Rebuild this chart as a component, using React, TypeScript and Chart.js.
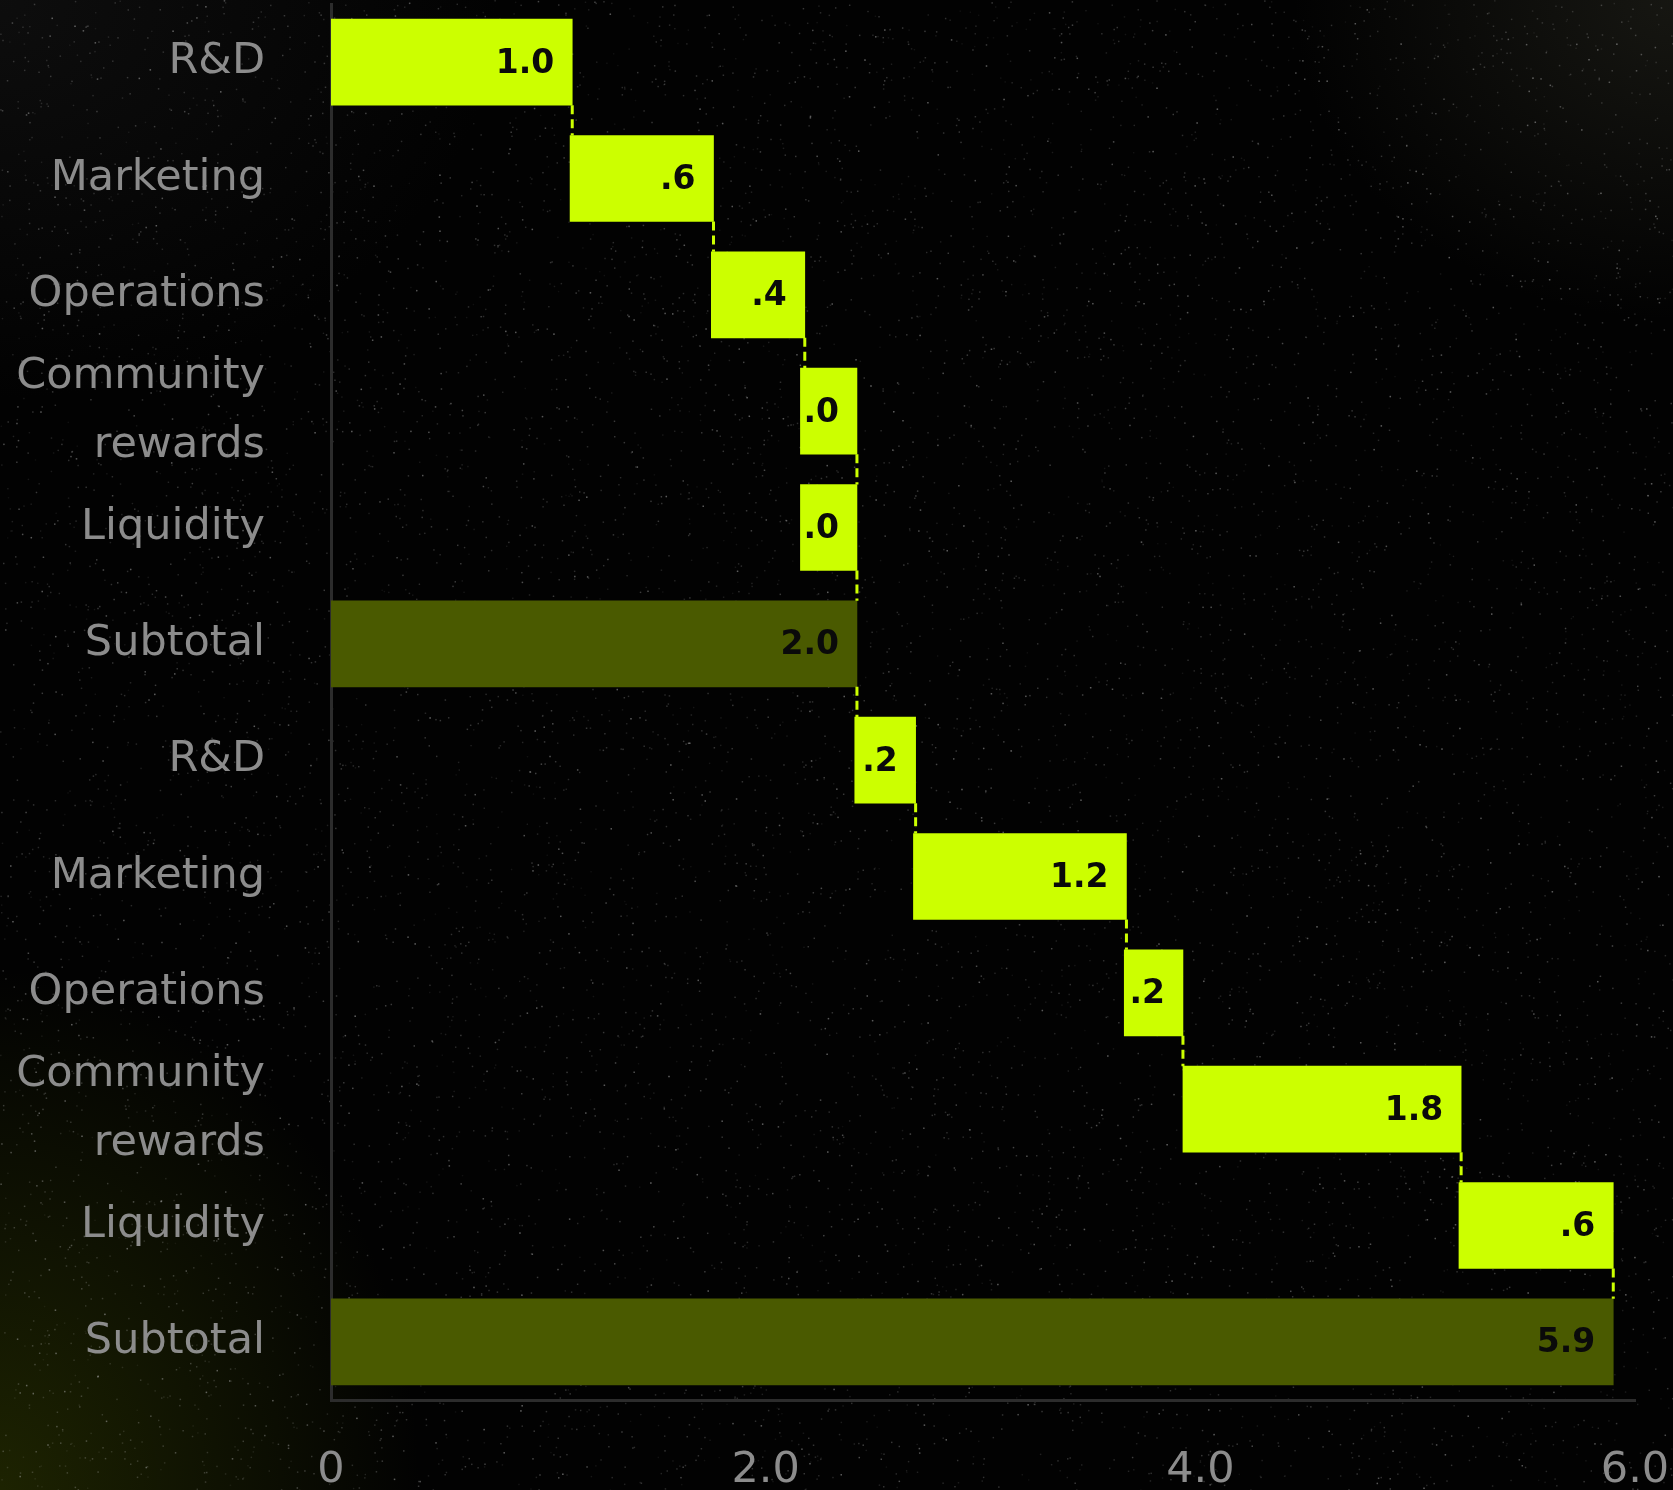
import React, { useEffect, useRef } from 'react';
import { Chart, registerables } from 'chart.js';

Chart.register(...registerables);

// ---- data ----
const categories: (string | string[])[] = [
  'R&D',
  'Marketing',
  'Operations',
  ['Community', 'rewards'],
  'Liquidity',
  'Subtotal',
  'R&D',
  'Marketing',
  'Operations',
  ['Community', 'rewards'],
  'Liquidity',
  'Subtotal',
];
// bar extents as drawn on the value axis
const barStart = [0, 1.1, 1.75, 2.16, 2.16, 0, 2.41, 2.68, 3.65, 3.92, 5.19, 0];
const barEnd = [1.11, 1.76, 2.18, 2.42, 2.42, 2.42, 2.69, 3.66, 3.92, 5.2, 5.9, 5.9];
// printed value labels
const valueLabels = ['1.0', '.6', '.4', '.0', '.0', '2.0', '.2', '1.2', '.2', '1.8', '.6', '5.9'];
const isSubtotal = [false, false, false, false, false, true, false, false, false, false, false, true];
const xTickValues = [0, 2, 4, 6];

const LIME = '#CCFF00';
const OLIVE = '#4A5A00';
const FONT = '"DejaVu Sans", "Noto Sans", sans-serif';

const noisePlugin = {
  id: 'noise',
  beforeDraw(chart: any) {
    const { ctx, width, height } = chart;
    let seed = 1234567;
    const rnd = () => {
      seed = (seed * 1103515245 + 12345) % 2147483648;
      return seed / 2147483648;
    };
    ctx.save();
    for (let i = 0; i < 14000; i++) {
      const x = rnd() * width;
      const y = rnd() * height;
      const a = 0.08 + rnd() * 0.25;
      ctx.fillStyle = `rgba(170,170,170,${a.toFixed(3)})`;
      ctx.fillRect(x, y, 1.5, 1.5);
    }
    ctx.restore();
  },
};

const waterfallDecor = {
  id: 'waterfallDecor',
  afterDatasetsDraw(chart: any) {
    const { ctx } = chart;
    const meta = chart.getDatasetMeta(0);
    const xScale = chart.scales.x;
    ctx.save();
    // connectors
    ctx.strokeStyle = LIME;
    ctx.lineWidth = 3;
    ctx.setLineDash([9, 5]);
    for (let i = 0; i < meta.data.length - 1; i++) {
      const a = meta.data[i].getProps(['y', 'height'], true);
      const b = meta.data[i + 1].getProps(['y', 'height'], true);
      const x = xScale.getPixelForValue(barEnd[i]);
      const y1 = a.y + a.height / 2;
      const y2 = b.y - b.height / 2;
      ctx.beginPath();
      ctx.moveTo(x, y1);
      ctx.lineTo(x, y2);
      ctx.stroke();
    }
    ctx.setLineDash([]);
    // value labels
    ctx.font = `600 33px ${FONT}`;
    ctx.fillStyle = '#0a0a0a';
    ctx.textAlign = 'right';
    ctx.textBaseline = 'middle';
    for (let i = 0; i < meta.data.length; i++) {
      const el = meta.data[i].getProps(['y'], true);
      const x = xScale.getPixelForValue(barEnd[i]);
      ctx.fillText(valueLabels[i], x - 18, el.y + 2);
    }
    ctx.restore();
  },
};

export default function App() {
  const canvasRef = useRef<HTMLCanvasElement | null>(null);

  useEffect(() => {
    if (!canvasRef.current) return;
    const chart = new Chart(canvasRef.current, {
      type: 'bar',
      data: {
        labels: categories as any,
        datasets: [
          {
            data: barStart.map((s, i) => [s, barEnd[i]]) as any,
            backgroundColor: isSubtotal.map((s) => (s ? OLIVE : LIME)),
            borderWidth: 0,
            borderSkipped: false,
            barThickness: 86,
          },
        ],
      },
      options: {
        indexAxis: 'y',
        responsive: false,
        animation: false,
        devicePixelRatio: 1,
        layout: { padding: { top: 4, right: 0, bottom: 0, left: 0 } },
        plugins: {
          legend: { display: false },
          tooltip: { enabled: false },
        },
        scales: {
          x: {
            type: 'linear',
            min: 0,
            max: 6,
            grid: { display: false, drawTicks: false },
            border: { display: true, color: '#2c2c2c', width: 3 },
            afterBuildTicks: (scale: any) => {
              scale.ticks = xTickValues.map((v) => ({ value: v }));
            },
            afterFit: (scale: any) => {
              scale.paddingLeft = 0;
              scale.paddingRight = 38;
              scale.height = 90;
            },
            ticks: {
              color: '#8c8c8c',
              font: { family: FONT, size: 43 },
              padding: 45,
              callback: (v: any) => (Number(v) === 0 ? '0' : Number(v).toFixed(1)),
            },
          },
          y: {
            type: 'category',
            grid: { display: false, drawTicks: false },
            border: { display: true, color: '#2c2c2c', width: 3 },
            afterFit: (scale: any) => {
              scale.width = 331;
              scale.paddingTop = 0;
              scale.paddingBottom = 0;
            },
            ticks: {
              color: '#8c8c8c',
              font: { family: FONT, size: 43, lineHeight: 1.6 },
              padding: 66,
              crossAlign: 'near',
              autoSkip: false,
            },
          },
        },
      },
      plugins: [noisePlugin, waterfallDecor],
    });
    return () => chart.destroy();
  }, []);

  return (
    <div
      style={{
        position: 'absolute',
        left: 0,
        top: 0,
        width: 1673,
        height: 1490,
        overflow: 'hidden',
        background:
          'radial-gradient(ellipse 420px 520px at 0% 100%, rgba(70,85,0,0.4) 0%, rgba(0,0,0,0) 100%), radial-gradient(ellipse 380px 320px at 100% 0%, rgba(70,70,55,0.3) 0%, rgba(0,0,0,0) 100%), radial-gradient(ellipse 500px 400px at 0% 0%, rgba(40,40,40,0.3) 0%, rgba(0,0,0,0) 100%), #020202',
      }}
    >
      <canvas ref={canvasRef} width={1673} height={1490} style={{ display: 'block' }} />
    </div>
  );
}
